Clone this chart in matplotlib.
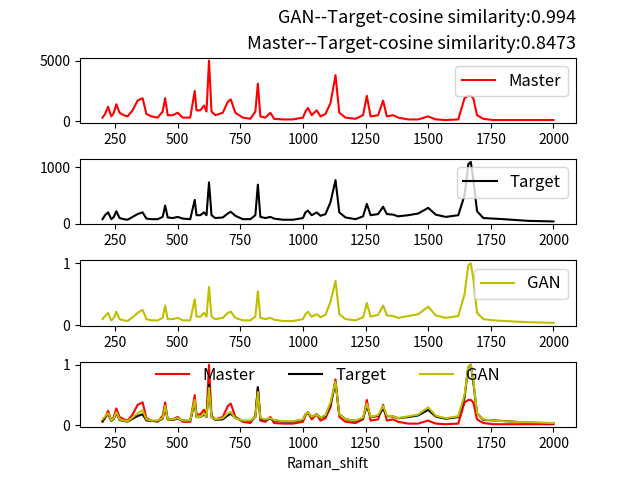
import matplotlib.pyplot as plt

plt.rcParams['font.family'] = ['Noto Sans CJK SC', 'DejaVu Sans']
plt.rcParams['axes.unicode_minus'] = False

# spectrum vertices (Raman shift, intensity)
raman_shift = [200, 210, 222, 235, 245, 255, 268, 285, 300, 320, 340, 360, 375, 395, 420,
               440, 450, 460, 480, 500, 520, 550, 568, 575, 590, 605, 615, 625, 635, 650,
               680, 700, 712, 730, 760, 790, 810, 820, 830, 850, 870, 885, 920, 960, 1000,
               1010, 1020, 1035, 1055, 1070, 1090, 1110, 1130, 1145, 1170, 1210, 1240, 1255,
               1270, 1300, 1320, 1335, 1360, 1380, 1420, 1460, 1500, 1530, 1570, 1620, 1645,
               1660, 1670, 1680, 1695, 1720, 1760, 1800, 1900, 2000]

master = [300, 600, 1200, 400, 700, 1400, 700, 500, 400, 900, 1700, 1900, 600, 400, 300,
          800, 1900, 500, 500, 700, 300, 300, 2500, 900, 900, 1300, 800, 5000, 800, 500,
          700, 1600, 1800, 700, 300, 200, 800, 3100, 400, 300, 700, 200, 150, 150, 300,
          800, 1100, 500, 900, 400, 600, 1500, 3800, 700, 300, 200, 500, 2100, 400, 500,
          1700, 400, 500, 300, 150, 150, 400, 150, 100, 150, 1900, 2100, 2100, 1900, 500,
          200, 100, 100, 100, 100]

target = [80, 150, 200, 80, 120, 220, 100, 80, 70, 120, 170, 200, 90, 80, 80,
          120, 320, 110, 100, 120, 90, 80, 420, 150, 150, 200, 150, 730, 150, 100,
          110, 180, 210, 140, 80, 80, 150, 690, 120, 100, 120, 90, 70, 70, 100,
          200, 230, 150, 200, 140, 170, 380, 770, 200, 110, 80, 130, 350, 150, 170,
          300, 170, 160, 130, 150, 180, 280, 160, 120, 150, 500, 1050, 1090, 780, 220,
          100, 90, 80, 50, 40]

gan = [0.10, 0.15, 0.20, 0.08, 0.12, 0.22, 0.10, 0.08, 0.07, 0.13, 0.20, 0.25, 0.10, 0.08, 0.08,
       0.12, 0.32, 0.10, 0.10, 0.12, 0.08, 0.08, 0.42, 0.14, 0.14, 0.20, 0.14, 0.62, 0.14, 0.10,
       0.12, 0.20, 0.22, 0.12, 0.08, 0.08, 0.14, 0.55, 0.12, 0.10, 0.12, 0.09, 0.07, 0.07, 0.10,
       0.18, 0.22, 0.14, 0.18, 0.13, 0.17, 0.38, 0.72, 0.18, 0.10, 0.08, 0.13, 0.36, 0.14, 0.17,
       0.32, 0.16, 0.15, 0.12, 0.15, 0.18, 0.30, 0.16, 0.12, 0.15, 0.50, 0.97, 1.00, 0.75, 0.20,
       0.10, 0.08, 0.07, 0.05, 0.04]

fig, axes = plt.subplots(4, 1, figsize=(6.4, 4.8))
plt.subplots_adjust(hspace=0.55)

axes[0].plot(raman_shift, master, color='r', label='Master')
axes[1].plot(raman_shift, target, color='k', label='Target')
axes[2].plot(raman_shift, gan, color='y', label='GAN')
axes[3].plot(raman_shift, [v / max(master) for v in master], color='r', label='Master')
axes[3].plot(raman_shift, [v / max(target) for v in target], color='k', label='Target')
axes[3].plot(raman_shift, gan, color='y', label='GAN')

for ax in axes[:3]:
    ax.legend(loc='upper right', fontsize=12)
axes[3].legend(loc='upper center', ncol=3, fontsize=12, frameon=False,
               bbox_to_anchor=(0.5, 1.15))
for ax in axes:
    ax.set_xticks([250, 500, 750, 1000, 1250, 1500, 1750, 2000])
axes[0].set_title('GAN--Target-cosine similarity:0.994\nMaster--Target-cosine similarity:0.8473',
                  loc='right', fontsize=13, linespacing=1.6)
axes[3].set_xlabel('Raman_shift')

plt.savefig('out.png', dpi=100)
